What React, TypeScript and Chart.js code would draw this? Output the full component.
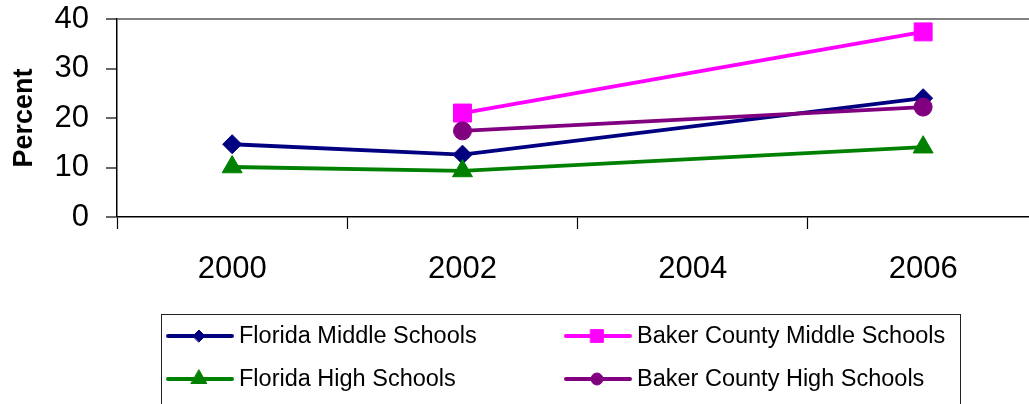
import React, { useEffect, useRef } from 'react';
import { Chart, registerables } from 'chart.js';
import { drawPoint } from 'chart.js/helpers';

Chart.register(...registerables);

const years = ['2000', '2002', '2004', '2006'];
const floridaMiddle = [14.7, 12.6, null, 24.0];
const bakerMiddle = [null, 21.0, null, 37.4];
const floridaHigh = [10.1, 9.3, null, 14.1];
const bakerHigh = [null, 17.4, null, 22.2];

const seriesNames = [
  'Florida Middle Schools',
  'Baker County Middle Schools',
  'Florida High Schools',
  'Baker County High Schools',
];
const seriesColors = ['#000080', '#FF00FF', '#008000', '#800080'];
const seriesMarkers = ['rectRot', 'rect', 'triangle', 'circle'];
const seriesData = [floridaMiddle, bakerMiddle, floridaHigh, bakerHigh];
const chartRadius = [9.5, 12.7, 11.5, 9];
const legendRadius = [6, 9, 9, 6];
const drawOrder = [3, 2, 1, 0];

const FONT = "'Liberation Sans', Arial, sans-serif";

const boxLegend = {
  id: 'boxLegend',
  afterDraw(chart: any) {
    const ctx = chart.ctx as CanvasRenderingContext2D;
    ctx.save();
    ctx.strokeStyle = '#222';
    ctx.lineWidth = 1;
    ctx.strokeRect(161.5, 314.5, 799, 100);
    const cols = [168, 566];
    const rows = [336, 379];
    ctx.font = `23.5px ${FONT}`;
    ctx.textBaseline = 'middle';
    ctx.textAlign = 'left';
    for (let i = 0; i < seriesNames.length; i++) {
      const x = cols[i % 2];
      const y = rows[Math.floor(i / 2)];
      ctx.strokeStyle = seriesColors[i];
      ctx.fillStyle = seriesColors[i];
      ctx.lineWidth = 4;
      ctx.lineCap = 'round';
      ctx.beginPath();
      ctx.moveTo(x, y);
      ctx.lineTo(x + 64, y);
      ctx.stroke();
      ctx.lineWidth = 1;
      drawPoint(ctx, { pointStyle: seriesMarkers[i], radius: legendRadius[i], rotation: 0, borderWidth: 1 } as any, x + 31, y);
      ctx.fillStyle = '#000';
      ctx.fillText(seriesNames[i], x + 71, y + 1);
    }
    ctx.restore();
  },
};

const zeroPad = (s: any) => {
  s.paddingLeft = 0;
  s.paddingRight = 0;
  s.paddingTop = 0;
  s.paddingBottom = 0;
};

export default function App() {
  const ref = useRef<HTMLCanvasElement | null>(null);
  useEffect(() => {
    if (!ref.current) return;
    const chart = new Chart(ref.current, {
      type: 'line',
      data: {
        labels: years,
        datasets: seriesNames.map((name, i) => ({
          label: name,
          data: seriesData[i],
          borderColor: seriesColors[i],
          backgroundColor: seriesColors[i],
          pointBackgroundColor: seriesColors[i],
          pointBorderColor: seriesColors[i],
          pointStyle: seriesMarkers[i] as any,
          pointRadius: chartRadius[i],
          pointBorderWidth: 1,
          borderWidth: 3.8,
          spanGaps: true,
          tension: 0,
          order: drawOrder[i],
        })),
      },
      options: {
        responsive: false,
        animation: false,
        devicePixelRatio: 1,
        layout: { padding: { top: 19, right: 3, left: 0, bottom: 0 } },
        plugins: {
          legend: { display: false },
          tooltip: { enabled: false },
        },
        scales: {
          x: {
            type: 'category',
            offset: true,
            grid: {
              offset: true,
              drawOnChartArea: false,
              tickLength: 12,
              tickColor: '#000',
              tickWidth: 1.2,
            },
            border: { color: '#000', width: 1.5 },
            ticks: {
              color: '#000',
              font: { family: FONT, size: 31 },
              padding: 22,
              maxRotation: 0,
            },
            afterFit: (s: any) => {
              s.height = 187;
              zeroPad(s);
            },
          },
          y: {
            min: 0,
            max: 40,
            ticks: {
              stepSize: 10,
              color: '#000',
              font: { family: FONT, size: 31 },
              padding: 17,
            },
            grid: {
              color: (c: any) => (c.tick && c.tick.value === 40 ? '#808080' : 'rgba(0,0,0,0)'),
              lineWidth: (c: any) => (c.tick && c.tick.value === 40 ? 2 : 0),
              tickColor: '#000',
              tickWidth: 1.2,
              tickLength: 11,
              drawOnChartArea: true,
            },
            border: { color: '#000', width: 1.5 },
            title: {
              display: true,
              text: 'Percent',
              color: '#000',
              font: { family: FONT, size: 27, weight: 'bold' },
              padding: { top: 8, bottom: 0 },
            },
            afterFit: (s: any) => {
              s.width = 117;
              zeroPad(s);
            },
          },
        },
      },
      plugins: [boxLegend],
    });
    return () => chart.destroy();
  }, []);
  return (
    <div
      style={{
        position: 'fixed',
        left: 0,
        top: 0,
        width: 1029,
        height: 404,
        overflow: 'hidden',
        background: '#fff',
      }}
    >
      <canvas ref={ref} width={1052} height={404} style={{ width: 1052, height: 404, display: 'block' }} />
    </div>
  );
}
